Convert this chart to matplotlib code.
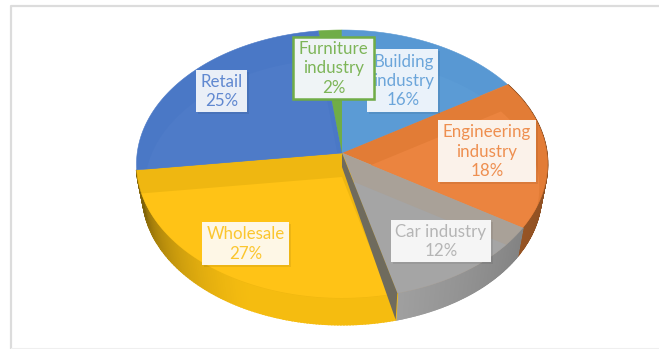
import numpy as np
import matplotlib
matplotlib.use("Agg")
import matplotlib.pyplot as plt
from matplotlib.colors import to_rgb
from matplotlib.patches import Polygon, Rectangle

# Pie content, clockwise from the furniture slice
categories = ["Furniture\nindustry", "Building\nindustry", "Engineering\nindustry",
              "Car industry", "Wholesale", "Retail"]
shares = [2, 16, 18, 12, 27, 25]
rim_colors = ["#70AD47", "#5898D3", "#E27C36", "#A9A198", "#EFB711", "#4A78C6"]
face_colors = ["#70AD47", "#5B9BD5", "#EB843F", "#A5A5A5", "#FFC316", "#4E7BC8"]
label_colors = ["#7DB558", "#6BA5DA", "#EE8F50", "#B5B5B5", "#FBC62F", "#6088D0"]
box_fills = ["#EFF4F6", "#EAF2FA", "#FBF2EA", "#F5F5F5", "#FEF7E6", "#EAEFF7"]
# Label boxes in pixels: left, top, right, bottom
label_boxes = [(293, 37, 374, 99), (367, 49, 438, 112), (438, 120, 536, 182),
               (391, 220, 491, 262), (202, 222, 289, 265), (196, 70, 247, 112)]

# Perspective disc
CX, CY, RX, RY, K = 342.0, 153.0, 204.8, 133.1, 0.0821
DEPTH, BOTTOM_SCALE = 31.0, 0.97
INNER_DROP, INNER_SCALE = 24.0, 0.96


def disc(theta, scale=1.0, cy=CY):
    t = np.radians(theta)
    u, v = np.sin(t), np.cos(t)
    s = 1 / (1 + K * v)
    return np.column_stack([CX + scale * RX * u * s, cy - scale * RY * v * s])


def shaded(color, f):
    return tuple(np.clip(np.array(to_rgb(color)) * f, 0, 1))


fig = plt.figure(figsize=(6.59, 3.49), dpi=100)
ax = fig.add_axes([0, 0, 1, 1])
ax.set_xlim(0, 659)
ax.set_ylim(349, 0)
ax.axis("off")

# Slide frame
ax.plot([11, 11, 659], [349, 5.5, 5.5], color="#DCDCDC", lw=1.6, solid_capstyle="butt")
ax.plot([11, 659], [348, 348], color="#EFEFEF", lw=0.8)

edges = np.cumsum([0] + shares) * 3.6 - shares[0] * 3.6

# Outer wall, darkening toward the edges of the visible part
side_shades = {2: (0.62, 0.75), 3: (0.80, 0.98), 4: (1.0, 0.52)}
for i, (lo, hi) in side_shades.items():
    steps = np.linspace(edges[i], edges[i + 1], 120)
    top = disc(steps)
    bot = disc(steps, BOTTOM_SCALE, CY + DEPTH)
    for j in range(len(steps) - 1):
        mid = (j + 0.5) / (len(steps) - 1)
        if i == 4:
            f = 1.0 - (1.0 - hi) * np.clip((mid - 0.4) / 0.55, 0, 1) ** 1.5
            base = "#F5BC10"
        else:
            f = hi + (lo - hi) * (1 - mid)
            base = {2: "#C97030", 3: "#A3A3A3"}[i]
        col = shaded(base, f)
        ax.fill([top[j, 0], top[j + 1, 0], bot[j + 1, 0], bot[j, 0]],
                [top[j, 1], top[j + 1, 1], bot[j + 1, 1], bot[j, 1]],
                fc=col, ec=col, lw=1.2, zorder=2)

# Top faces: darker rim, lighter inner plateau clipped to the slice
for i in range(len(shares)):
    arc = disc(np.linspace(edges[i], edges[i + 1], 80))
    wedge = Polygon(np.vstack([[CX, CY], arc]), closed=True, fc=rim_colors[i],
                    ec=rim_colors[i], lw=0.4, zorder=3)
    ax.add_patch(wedge)
    inner_arc = disc(np.linspace(edges[i], edges[i + 1], 80), INNER_SCALE, CY + INNER_DROP)
    # the plateau also reaches past the outer edge on the near side
    spread = disc(np.linspace(edges[i], edges[i + 1], 80), 1.2, CY + INNER_DROP)
    if 90 < (edges[i] + edges[i + 1]) / 2 < 262:
        inner_arc = spread
    inner = Polygon(np.vstack([[CX, CY + INNER_DROP], inner_arc]), closed=True,
                    fc=face_colors[i], ec="none", zorder=4)
    ax.add_patch(inner)
    inner.set_clip_path(wedge)

# Exposed cut wall between the wholesale and car slices
near_edge = edges[4]
outer_top = disc([near_edge])[0]
outer_bot = disc([near_edge], BOTTOM_SCALE, CY + DEPTH)[0]
ax.add_patch(Polygon([[CX, CY], outer_top, outer_bot, [CX, CY + 14]], closed=True,
                     fc="#6F6B5D", ec="none", zorder=5))

# Data labels; the outlined furniture label sits on top of its neighbour
for i, name in enumerate(categories):
    x0, y0, x1, y1 = label_boxes[i]
    z = 12 if i == 0 else 6
    ax.add_patch(Rectangle((x0 + 1.5, y0 + 1.5), x1 - x0, y1 - y0, fc="black", alpha=0.07,
                           ec="none", zorder=z))
    border = "#70AD47" if i == 0 else "none"
    ax.add_patch(Rectangle((x0, y0), x1 - x0, y1 - y0, fc=box_fills[i], ec=border,
                           lw=1.8, zorder=z + 1))
    ax.text((x0 + x1) / 2 + (1 if i == 1 else 0), (y0 + y1) / 2 + 0.5, f"{name}\n{shares[i]}%",
            ha="center", va="center", color=label_colors[i], fontsize=12.2, family="Lato",
            linespacing=1.24, zorder=z + 2)

fig.savefig("out.png", dpi=100, facecolor="white")
